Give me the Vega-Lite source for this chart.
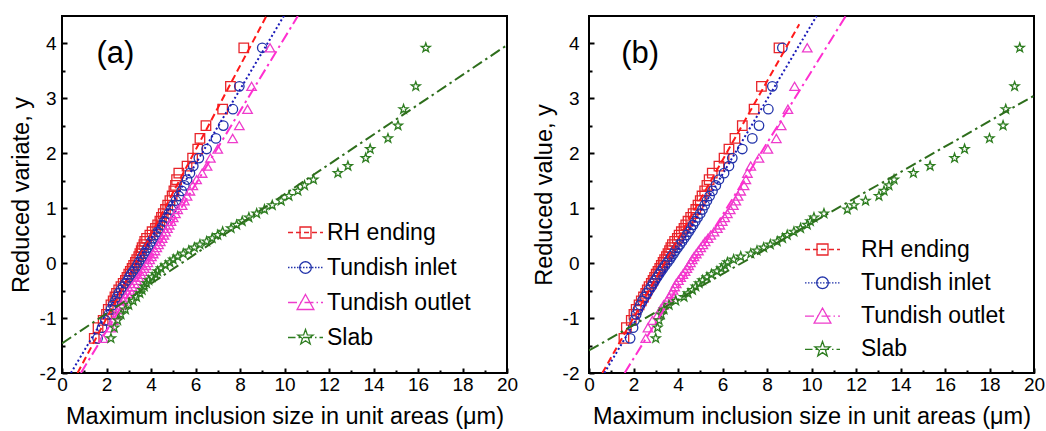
{
  "$schema": "https://vega.github.io/schema/vega-lite/v6.json",
  "padding": {"left": 8, "top": 15, "right": 3, "bottom": 2},
  "config": {
    "font": "Liberation Sans",
    "view": {"stroke": "black", "strokeWidth": 2},
    "axis": {"domain": false, "grid": false, "tickColor": "black", "tickWidth": 2, "labelColor": "black", "labelFontSize": 19, "titleFontSize": 23.5, "titleColor": "black", "titleFontWeight": "normal", "labelFont": "Liberation Sans", "titleFont": "Liberation Sans", "labelFlush": false, "labelOverlap": false},
    "legend": {"labelFont": "Liberation Sans", "labelFontSize": 23, "labelColor": "black", "labelLimit": 400},
    "point": {"filled": false, "size": 90, "strokeWidth": 1.3, "opacity": 1},
    "line": {"strokeWidth": 2}
  },
  "spacing": 82,
  "bounds": "flush",
  "resolve": {"scale": {"color": "independent", "shape": "independent"}},
  "datasets": {
    "la": [
      {"series": "RH ending", "x": 0.7, "y": -2}, {"series": "RH ending", "x": 9.2, "y": 4.51},
      {"series": "Tundish inlet", "x": 0.4, "y": -2}, {"series": "Tundish inlet", "x": 10.0, "y": 4.52},
      {"series": "Tundish outlet", "x": 0.85, "y": -2}, {"series": "Tundish outlet", "x": 10.6, "y": 4.5},
      {"series": "Slab", "x": 0, "y": -1.46}, {"series": "Slab", "x": 20, "y": 3.97}
    ],
    "lb": [
      {"series": "RH ending", "x": 0.6, "y": -2}, {"series": "RH ending", "x": 9.45, "y": 4.35},
      {"series": "Tundish inlet", "x": 0.69, "y": -2}, {"series": "Tundish inlet", "x": 10.23, "y": 4.5},
      {"series": "Tundish outlet", "x": 1.6, "y": -2}, {"series": "Tundish outlet", "x": 11.54, "y": 4.5},
      {"series": "Slab", "x": 0, "y": -1.59}, {"series": "Slab", "x": 20, "y": 3.05}
    ],
    "pa": [
      {"series":"RH ending","x":1.45,"y":-1.369},{"series":"RH ending","x":1.62,"y":-1.175},{"series":"RH ending","x":1.85,"y":-1.041},{"series":"RH ending","x":2.0,"y":-0.934},{"series":"RH ending","x":2.08,"y":-0.843},{"series":"RH ending","x":2.2,"y":-0.761},{"series":"RH ending","x":2.3,"y":-0.686},{"series":"RH ending","x":2.38,"y":-0.616},{"series":"RH ending","x":2.45,"y":-0.551},{"series":"RH ending","x":2.55,"y":-0.488},
      {"series":"RH ending","x":2.65,"y":-0.428},{"series":"RH ending","x":2.75,"y":-0.369},{"series":"RH ending","x":2.85,"y":-0.313},{"series":"RH ending","x":2.92,"y":-0.257},{"series":"RH ending","x":3.0,"y":-0.202},{"series":"RH ending","x":3.07,"y":-0.148},{"series":"RH ending","x":3.15,"y":-0.094},{"series":"RH ending","x":3.22,"y":-0.041},{"series":"RH ending","x":3.3,"y":0.013},{"series":"RH ending","x":3.36,"y":0.066},
      {"series":"RH ending","x":3.45,"y":0.12},{"series":"RH ending","x":3.5,"y":0.173},{"series":"RH ending","x":3.56,"y":0.228},{"series":"RH ending","x":3.6,"y":0.283},{"series":"RH ending","x":3.68,"y":0.338},{"series":"RH ending","x":3.72,"y":0.395},{"series":"RH ending","x":3.8,"y":0.453},{"series":"RH ending","x":3.95,"y":0.511},{"series":"RH ending","x":4.05,"y":0.572},{"series":"RH ending","x":4.2,"y":0.634},
      {"series":"RH ending","x":4.3,"y":0.697},{"series":"RH ending","x":4.4,"y":0.763},{"series":"RH ending","x":4.47,"y":0.832},{"series":"RH ending","x":4.55,"y":0.903},{"series":"RH ending","x":4.65,"y":0.977},{"series":"RH ending","x":4.75,"y":1.055},{"series":"RH ending","x":4.85,"y":1.137},{"series":"RH ending","x":4.95,"y":1.223},{"series":"RH ending","x":5.03,"y":1.316},{"series":"RH ending","x":5.1,"y":1.415},
      {"series":"RH ending","x":5.15,"y":1.522},{"series":"RH ending","x":5.25,"y":1.639},{"series":"RH ending","x":5.62,"y":1.768},{"series":"RH ending","x":5.87,"y":1.913},{"series":"RH ending","x":6.1,"y":2.078},{"series":"RH ending","x":6.2,"y":2.271},{"series":"RH ending","x":6.47,"y":2.505},{"series":"RH ending","x":7.22,"y":2.803},{"series":"RH ending","x":7.57,"y":3.219},{"series":"RH ending","x":8.17,"y":3.921},
      {"series":"Tundish inlet","x":1.6,"y":-1.369},{"series":"Tundish inlet","x":1.8,"y":-1.175},{"series":"Tundish inlet","x":1.95,"y":-1.041},{"series":"Tundish inlet","x":2.1,"y":-0.934},{"series":"Tundish inlet","x":2.2,"y":-0.843},{"series":"Tundish inlet","x":2.3,"y":-0.761},{"series":"Tundish inlet","x":2.4,"y":-0.686},{"series":"Tundish inlet","x":2.48,"y":-0.616},{"series":"Tundish inlet","x":2.55,"y":-0.551},{"series":"Tundish inlet","x":2.65,"y":-0.488},
      {"series":"Tundish inlet","x":2.75,"y":-0.428},{"series":"Tundish inlet","x":2.85,"y":-0.369},{"series":"Tundish inlet","x":2.95,"y":-0.313},{"series":"Tundish inlet","x":3.02,"y":-0.257},{"series":"Tundish inlet","x":3.1,"y":-0.202},{"series":"Tundish inlet","x":3.2,"y":-0.148},{"series":"Tundish inlet","x":3.3,"y":-0.094},{"series":"Tundish inlet","x":3.38,"y":-0.041},{"series":"Tundish inlet","x":3.45,"y":0.013},{"series":"Tundish inlet","x":3.55,"y":0.066},
      {"series":"Tundish inlet","x":3.62,"y":0.12},{"series":"Tundish inlet","x":3.7,"y":0.173},{"series":"Tundish inlet","x":3.78,"y":0.228},{"series":"Tundish inlet","x":3.86,"y":0.283},{"series":"Tundish inlet","x":3.95,"y":0.338},{"series":"Tundish inlet","x":4.02,"y":0.395},{"series":"Tundish inlet","x":4.1,"y":0.453},{"series":"Tundish inlet","x":4.2,"y":0.511},{"series":"Tundish inlet","x":4.3,"y":0.572},{"series":"Tundish inlet","x":4.4,"y":0.634},
      {"series":"Tundish inlet","x":4.5,"y":0.697},{"series":"Tundish inlet","x":4.6,"y":0.763},{"series":"Tundish inlet","x":4.7,"y":0.832},{"series":"Tundish inlet","x":4.8,"y":0.903},{"series":"Tundish inlet","x":4.9,"y":0.977},{"series":"Tundish inlet","x":5.0,"y":1.055},{"series":"Tundish inlet","x":5.12,"y":1.137},{"series":"Tundish inlet","x":5.25,"y":1.223},{"series":"Tundish inlet","x":5.38,"y":1.316},{"series":"Tundish inlet","x":5.5,"y":1.415},
      {"series":"Tundish inlet","x":5.62,"y":1.522},{"series":"Tundish inlet","x":5.75,"y":1.639},{"series":"Tundish inlet","x":5.9,"y":1.768},{"series":"Tundish inlet","x":6.15,"y":1.913},{"series":"Tundish inlet","x":6.5,"y":2.078},{"series":"Tundish inlet","x":6.92,"y":2.271},{"series":"Tundish inlet","x":7.25,"y":2.505},{"series":"Tundish inlet","x":7.68,"y":2.803},{"series":"Tundish inlet","x":7.97,"y":3.219},{"series":"Tundish inlet","x":9.0,"y":3.921},
      {"series":"Tundish outlet","x":1.85,"y":-1.369},{"series":"Tundish outlet","x":2.2,"y":-1.175},{"series":"Tundish outlet","x":2.3,"y":-1.041},{"series":"Tundish outlet","x":2.45,"y":-0.934},{"series":"Tundish outlet","x":2.55,"y":-0.843},{"series":"Tundish outlet","x":2.65,"y":-0.761},{"series":"Tundish outlet","x":2.75,"y":-0.686},{"series":"Tundish outlet","x":2.85,"y":-0.616},{"series":"Tundish outlet","x":2.95,"y":-0.551},{"series":"Tundish outlet","x":3.05,"y":-0.488},
      {"series":"Tundish outlet","x":3.15,"y":-0.428},{"series":"Tundish outlet","x":3.25,"y":-0.369},{"series":"Tundish outlet","x":3.35,"y":-0.313},{"series":"Tundish outlet","x":3.45,"y":-0.257},{"series":"Tundish outlet","x":3.55,"y":-0.202},{"series":"Tundish outlet","x":3.62,"y":-0.148},{"series":"Tundish outlet","x":3.7,"y":-0.094},{"series":"Tundish outlet","x":3.78,"y":-0.041},{"series":"Tundish outlet","x":3.86,"y":0.013},{"series":"Tundish outlet","x":3.94,"y":0.066},
      {"series":"Tundish outlet","x":4.02,"y":0.12},{"series":"Tundish outlet","x":4.1,"y":0.173},{"series":"Tundish outlet","x":4.18,"y":0.228},{"series":"Tundish outlet","x":4.26,"y":0.283},{"series":"Tundish outlet","x":4.34,"y":0.338},{"series":"Tundish outlet","x":4.42,"y":0.395},{"series":"Tundish outlet","x":4.5,"y":0.453},{"series":"Tundish outlet","x":4.58,"y":0.511},{"series":"Tundish outlet","x":4.66,"y":0.572},{"series":"Tundish outlet","x":4.74,"y":0.634},
      {"series":"Tundish outlet","x":4.82,"y":0.697},{"series":"Tundish outlet","x":4.9,"y":0.763},{"series":"Tundish outlet","x":5.0,"y":0.832},{"series":"Tundish outlet","x":5.1,"y":0.903},{"series":"Tundish outlet","x":5.2,"y":0.977},{"series":"Tundish outlet","x":5.4,"y":1.055},{"series":"Tundish outlet","x":5.5,"y":1.137},{"series":"Tundish outlet","x":5.62,"y":1.223},{"series":"Tundish outlet","x":5.75,"y":1.316},{"series":"Tundish outlet","x":5.88,"y":1.415},
      {"series":"Tundish outlet","x":6.05,"y":1.522},{"series":"Tundish outlet","x":6.3,"y":1.639},{"series":"Tundish outlet","x":6.52,"y":1.768},{"series":"Tundish outlet","x":6.67,"y":1.913},{"series":"Tundish outlet","x":7.0,"y":2.078},{"series":"Tundish outlet","x":7.67,"y":2.271},{"series":"Tundish outlet","x":7.97,"y":2.505},{"series":"Tundish outlet","x":8.34,"y":2.803},{"series":"Tundish outlet","x":8.52,"y":3.219},{"series":"Tundish outlet","x":9.35,"y":3.921},
      {"series":"Slab","x":2.2,"y":-1.369},{"series":"Slab","x":2.35,"y":-1.175},{"series":"Slab","x":2.5,"y":-1.041},{"series":"Slab","x":2.65,"y":-0.934},{"series":"Slab","x":2.85,"y":-0.843},{"series":"Slab","x":3.0,"y":-0.761},{"series":"Slab","x":3.2,"y":-0.686},{"series":"Slab","x":3.35,"y":-0.616},{"series":"Slab","x":3.5,"y":-0.551},{"series":"Slab","x":3.6,"y":-0.488},
      {"series":"Slab","x":3.7,"y":-0.428},{"series":"Slab","x":3.8,"y":-0.369},{"series":"Slab","x":3.9,"y":-0.313},{"series":"Slab","x":4.05,"y":-0.257},{"series":"Slab","x":4.2,"y":-0.202},{"series":"Slab","x":4.3,"y":-0.148},{"series":"Slab","x":4.45,"y":-0.094},{"series":"Slab","x":4.65,"y":-0.041},{"series":"Slab","x":4.85,"y":0.013},{"series":"Slab","x":5.0,"y":0.066},
      {"series":"Slab","x":5.2,"y":0.12},{"series":"Slab","x":5.45,"y":0.173},{"series":"Slab","x":5.7,"y":0.228},{"series":"Slab","x":5.95,"y":0.283},{"series":"Slab","x":6.2,"y":0.338},{"series":"Slab","x":6.5,"y":0.395},{"series":"Slab","x":6.75,"y":0.453},{"series":"Slab","x":7.0,"y":0.511},{"series":"Slab","x":7.22,"y":0.572},{"series":"Slab","x":7.6,"y":0.634},
      {"series":"Slab","x":7.85,"y":0.697},{"series":"Slab","x":8.1,"y":0.763},{"series":"Slab","x":8.4,"y":0.832},{"series":"Slab","x":8.75,"y":0.903},{"series":"Slab","x":9.1,"y":0.977},{"series":"Slab","x":9.45,"y":1.055},{"series":"Slab","x":9.85,"y":1.137},{"series":"Slab","x":10.2,"y":1.223},{"series":"Slab","x":10.6,"y":1.316},{"series":"Slab","x":10.9,"y":1.415},
      {"series":"Slab","x":11.3,"y":1.522},{"series":"Slab","x":12.4,"y":1.639},{"series":"Slab","x":12.85,"y":1.768},{"series":"Slab","x":13.65,"y":1.913},{"series":"Slab","x":13.85,"y":2.078},{"series":"Slab","x":14.65,"y":2.271},{"series":"Slab","x":15.1,"y":2.505},{"series":"Slab","x":15.35,"y":2.803},{"series":"Slab","x":15.9,"y":3.219},{"series":"Slab","x":16.35,"y":3.921}
    ],
    "pb": [
      {"series":"RH ending","x":1.57,"y":-1.369},{"series":"RH ending","x":1.68,"y":-1.175},{"series":"RH ending","x":1.9,"y":-1.041},{"series":"RH ending","x":2.02,"y":-0.934},{"series":"RH ending","x":2.12,"y":-0.843},{"series":"RH ending","x":2.25,"y":-0.761},{"series":"RH ending","x":2.35,"y":-0.686},{"series":"RH ending","x":2.45,"y":-0.616},{"series":"RH ending","x":2.55,"y":-0.551},{"series":"RH ending","x":2.62,"y":-0.488},
      {"series":"RH ending","x":2.7,"y":-0.428},{"series":"RH ending","x":2.8,"y":-0.369},{"series":"RH ending","x":2.88,"y":-0.313},{"series":"RH ending","x":2.95,"y":-0.257},{"series":"RH ending","x":3.02,"y":-0.202},{"series":"RH ending","x":3.1,"y":-0.148},{"series":"RH ending","x":3.18,"y":-0.094},{"series":"RH ending","x":3.25,"y":-0.041},{"series":"RH ending","x":3.33,"y":0.013},{"series":"RH ending","x":3.4,"y":0.066},
      {"series":"RH ending","x":3.48,"y":0.12},{"series":"RH ending","x":3.55,"y":0.173},{"series":"RH ending","x":3.62,"y":0.228},{"series":"RH ending","x":3.68,"y":0.283},{"series":"RH ending","x":3.75,"y":0.338},{"series":"RH ending","x":3.85,"y":0.395},{"series":"RH ending","x":3.97,"y":0.453},{"series":"RH ending","x":4.05,"y":0.511},{"series":"RH ending","x":4.15,"y":0.572},{"series":"RH ending","x":4.27,"y":0.634},
      {"series":"RH ending","x":4.35,"y":0.697},{"series":"RH ending","x":4.45,"y":0.763},{"series":"RH ending","x":4.57,"y":0.832},{"series":"RH ending","x":4.68,"y":0.903},{"series":"RH ending","x":4.8,"y":0.977},{"series":"RH ending","x":4.9,"y":1.055},{"series":"RH ending","x":5.0,"y":1.137},{"series":"RH ending","x":5.08,"y":1.223},{"series":"RH ending","x":5.2,"y":1.316},{"series":"RH ending","x":5.3,"y":1.415},
      {"series":"RH ending","x":5.4,"y":1.522},{"series":"RH ending","x":5.54,"y":1.639},{"series":"RH ending","x":5.84,"y":1.768},{"series":"RH ending","x":6.07,"y":1.913},{"series":"RH ending","x":6.29,"y":2.078},{"series":"RH ending","x":6.56,"y":2.271},{"series":"RH ending","x":6.89,"y":2.505},{"series":"RH ending","x":7.42,"y":2.803},{"series":"RH ending","x":7.75,"y":3.219},{"series":"RH ending","x":8.54,"y":3.921},
      {"series":"Tundish inlet","x":1.85,"y":-1.369},{"series":"Tundish inlet","x":1.98,"y":-1.175},{"series":"Tundish inlet","x":2.05,"y":-1.041},{"series":"Tundish inlet","x":2.12,"y":-0.934},{"series":"Tundish inlet","x":2.2,"y":-0.843},{"series":"Tundish inlet","x":2.3,"y":-0.761},{"series":"Tundish inlet","x":2.4,"y":-0.686},{"series":"Tundish inlet","x":2.5,"y":-0.616},{"series":"Tundish inlet","x":2.6,"y":-0.551},{"series":"Tundish inlet","x":2.7,"y":-0.488},
      {"series":"Tundish inlet","x":2.8,"y":-0.428},{"series":"Tundish inlet","x":2.88,"y":-0.369},{"series":"Tundish inlet","x":2.97,"y":-0.313},{"series":"Tundish inlet","x":3.06,"y":-0.257},{"series":"Tundish inlet","x":3.15,"y":-0.202},{"series":"Tundish inlet","x":3.24,"y":-0.148},{"series":"Tundish inlet","x":3.33,"y":-0.094},{"series":"Tundish inlet","x":3.42,"y":-0.041},{"series":"Tundish inlet","x":3.52,"y":0.013},{"series":"Tundish inlet","x":3.62,"y":0.066},
      {"series":"Tundish inlet","x":3.7,"y":0.12},{"series":"Tundish inlet","x":3.8,"y":0.173},{"series":"Tundish inlet","x":3.88,"y":0.228},{"series":"Tundish inlet","x":3.98,"y":0.283},{"series":"Tundish inlet","x":4.08,"y":0.338},{"series":"Tundish inlet","x":4.18,"y":0.395},{"series":"Tundish inlet","x":4.28,"y":0.453},{"series":"Tundish inlet","x":4.38,"y":0.511},{"series":"Tundish inlet","x":4.48,"y":0.572},{"series":"Tundish inlet","x":4.58,"y":0.634},
      {"series":"Tundish inlet","x":4.68,"y":0.697},{"series":"Tundish inlet","x":4.78,"y":0.763},{"series":"Tundish inlet","x":4.88,"y":0.832},{"series":"Tundish inlet","x":5.0,"y":0.903},{"series":"Tundish inlet","x":5.1,"y":0.977},{"series":"Tundish inlet","x":5.2,"y":1.055},{"series":"Tundish inlet","x":5.3,"y":1.137},{"series":"Tundish inlet","x":5.42,"y":1.223},{"series":"Tundish inlet","x":5.55,"y":1.316},{"series":"Tundish inlet","x":5.7,"y":1.415},
      {"series":"Tundish inlet","x":5.84,"y":1.522},{"series":"Tundish inlet","x":6.07,"y":1.639},{"series":"Tundish inlet","x":6.29,"y":1.768},{"series":"Tundish inlet","x":6.44,"y":1.913},{"series":"Tundish inlet","x":6.89,"y":2.078},{"series":"Tundish inlet","x":7.34,"y":2.271},{"series":"Tundish inlet","x":7.64,"y":2.505},{"series":"Tundish inlet","x":8.06,"y":2.803},{"series":"Tundish inlet","x":8.24,"y":3.219},{"series":"Tundish inlet","x":8.69,"y":3.921},
      {"series":"Tundish outlet","x":2.55,"y":-1.369},{"series":"Tundish outlet","x":2.65,"y":-1.175},{"series":"Tundish outlet","x":2.85,"y":-1.041},{"series":"Tundish outlet","x":3.1,"y":-0.934},{"series":"Tundish outlet","x":3.22,"y":-0.843},{"series":"Tundish outlet","x":3.35,"y":-0.761},{"series":"Tundish outlet","x":3.5,"y":-0.686},{"series":"Tundish outlet","x":3.6,"y":-0.616},{"series":"Tundish outlet","x":3.7,"y":-0.551},{"series":"Tundish outlet","x":3.78,"y":-0.488},
      {"series":"Tundish outlet","x":3.85,"y":-0.428},{"series":"Tundish outlet","x":3.92,"y":-0.369},{"series":"Tundish outlet","x":4.02,"y":-0.313},{"series":"Tundish outlet","x":4.12,"y":-0.257},{"series":"Tundish outlet","x":4.22,"y":-0.202},{"series":"Tundish outlet","x":4.32,"y":-0.148},{"series":"Tundish outlet","x":4.4,"y":-0.094},{"series":"Tundish outlet","x":4.48,"y":-0.041},{"series":"Tundish outlet","x":4.56,"y":0.013},{"series":"Tundish outlet","x":4.64,"y":0.066},
      {"series":"Tundish outlet","x":4.72,"y":0.12},{"series":"Tundish outlet","x":4.82,"y":0.173},{"series":"Tundish outlet","x":4.92,"y":0.228},{"series":"Tundish outlet","x":5.02,"y":0.283},{"series":"Tundish outlet","x":5.12,"y":0.338},{"series":"Tundish outlet","x":5.22,"y":0.395},{"series":"Tundish outlet","x":5.35,"y":0.453},{"series":"Tundish outlet","x":5.47,"y":0.511},{"series":"Tundish outlet","x":5.62,"y":0.572},{"series":"Tundish outlet","x":5.77,"y":0.634},
      {"series":"Tundish outlet","x":5.88,"y":0.697},{"series":"Tundish outlet","x":5.99,"y":0.763},{"series":"Tundish outlet","x":6.1,"y":0.832},{"series":"Tundish outlet","x":6.22,"y":0.903},{"series":"Tundish outlet","x":6.35,"y":0.977},{"series":"Tundish outlet","x":6.49,"y":1.055},{"series":"Tundish outlet","x":6.6,"y":1.137},{"series":"Tundish outlet","x":6.7,"y":1.223},{"series":"Tundish outlet","x":6.82,"y":1.316},{"series":"Tundish outlet","x":6.97,"y":1.415},
      {"series":"Tundish outlet","x":7.05,"y":1.522},{"series":"Tundish outlet","x":7.12,"y":1.639},{"series":"Tundish outlet","x":7.27,"y":1.768},{"series":"Tundish outlet","x":7.64,"y":1.913},{"series":"Tundish outlet","x":8.04,"y":2.078},{"series":"Tundish outlet","x":8.42,"y":2.271},{"series":"Tundish outlet","x":8.64,"y":2.505},{"series":"Tundish outlet","x":8.94,"y":2.803},{"series":"Tundish outlet","x":9.24,"y":3.219},{"series":"Tundish outlet","x":9.81,"y":3.921},
      {"series":"Slab","x":3.0,"y":-1.369},{"series":"Slab","x":3.08,"y":-1.175},{"series":"Slab","x":3.15,"y":-1.041},{"series":"Slab","x":3.25,"y":-0.934},{"series":"Slab","x":3.37,"y":-0.843},{"series":"Slab","x":3.6,"y":-0.761},{"series":"Slab","x":3.9,"y":-0.686},{"series":"Slab","x":4.27,"y":-0.616},{"series":"Slab","x":4.45,"y":-0.551},{"series":"Slab","x":4.65,"y":-0.488},
      {"series":"Slab","x":4.8,"y":-0.428},{"series":"Slab","x":4.95,"y":-0.369},{"series":"Slab","x":5.1,"y":-0.313},{"series":"Slab","x":5.3,"y":-0.257},{"series":"Slab","x":5.5,"y":-0.202},{"series":"Slab","x":5.75,"y":-0.148},{"series":"Slab","x":5.95,"y":-0.094},{"series":"Slab","x":6.1,"y":-0.041},{"series":"Slab","x":6.22,"y":0.013},{"series":"Slab","x":6.5,"y":0.066},
      {"series":"Slab","x":6.82,"y":0.12},{"series":"Slab","x":7.27,"y":0.173},{"series":"Slab","x":7.55,"y":0.228},{"series":"Slab","x":7.85,"y":0.283},{"series":"Slab","x":8.15,"y":0.338},{"series":"Slab","x":8.46,"y":0.395},{"series":"Slab","x":8.7,"y":0.453},{"series":"Slab","x":8.91,"y":0.511},{"series":"Slab","x":9.21,"y":0.572},{"series":"Slab","x":9.51,"y":0.634},
      {"series":"Slab","x":9.81,"y":0.697},{"series":"Slab","x":9.95,"y":0.763},{"series":"Slab","x":10.11,"y":0.832},{"series":"Slab","x":10.56,"y":0.903},{"series":"Slab","x":11.61,"y":0.977},{"series":"Slab","x":11.91,"y":1.055},{"series":"Slab","x":12.43,"y":1.137},{"series":"Slab","x":13.03,"y":1.223},{"series":"Slab","x":13.26,"y":1.316},{"series":"Slab","x":13.48,"y":1.415},
      {"series":"Slab","x":13.71,"y":1.522},{"series":"Slab","x":14.58,"y":1.639},{"series":"Slab","x":15.33,"y":1.768},{"series":"Slab","x":16.43,"y":1.913},{"series":"Slab","x":16.88,"y":2.078},{"series":"Slab","x":18.0,"y":2.271},{"series":"Slab","x":18.61,"y":2.505},{"series":"Slab","x":18.73,"y":2.803},{"series":"Slab","x":19.13,"y":3.219},{"series":"Slab","x":19.36,"y":3.921}
    ]
  },
  "hconcat": [
    {
      "width": 445,
      "height": 357,
      "resolve": {"axis": {"x": "independent", "y": "independent"}},
      "layer": [
        {
          "data": {"name": "pa"},
          "mark": {"type": "point", "opacity": 0, "strokeWidth": 1.5, "clip": true},
          "encoding": {
            "x": {"field": "x", "type": "quantitative", "scale": {"domain": [0, 20], "nice": false, "zero": false}, "axis": {"orient": "bottom", "values": [1,3,5,7,9,11,13,15,17,19], "labels": false, "tickSize": -3, "title": null}},
            "y": {"field": "y", "type": "quantitative", "scale": {"domain": [-2, 4.5], "nice": false, "zero": false}, "axis": {"orient": "left", "values": [-1.5,-0.5,0.5,1.5,2.5,3.5], "labels": false, "tickSize": -3, "title": null}},
            "color": {"field": "series", "type": "nominal", "scale": {"domain": ["RH ending","Tundish inlet","Tundish outlet","Slab"], "range": ["#e8242a","#2233aa","#ee3ccc","#2e7d20"]},
              "legend": {"title": null, "orient": "none", "legendX": 225, "legendY": 198, "symbolSize": 1225, "symbolStrokeWidth": 1.5, "symbolOpacity": 1, "symbolFillColor": "transparent", "labelOffset": 3, "rowPadding": 4, "padding": 0}},
            "shape": {"field": "series", "type": "nominal", "scale": {"domain": ["RH ending","Tundish inlet","Tundish outlet","Slab"], "range": [
              "M-1,0H-0.714M-0.543,0H-0.257M-0.086,0H0.2M0.371,0H0.657M0.829,0H1M-0.314,-0.314H0.314V0.314H-0.314Z",
              "M-1,0H-0.914M-0.829,0H-0.743M-0.657,0H-0.571M-0.486,0H-0.4M-0.314,0H-0.229M-0.143,0H-0.057M0.029,0H0.114M0.2,0H0.286M0.371,0H0.457M0.543,0H0.629M0.714,0H0.8M0.886,0H0.971M0.334,0L0.309,0.128L0.236,0.236L0.128,0.309L0,0.334L-0.128,0.309L-0.236,0.236L-0.309,0.128L-0.334,0L-0.309,-0.128L-0.236,-0.236L-0.128,-0.309L0,-0.334L0.128,-0.309L0.236,-0.236L0.309,-0.128Z",
              "M-1,0H-0.486M-0.314,0H-0.229M-0.057,0H0.457M0.629,0H0.714M0.886,0H1M0,-0.46L0.48,0.4L-0.48,0.4Z",
              "M-1,0H-0.571M-0.4,0H-0.314M-0.143,0H0.371M0.543,0H0.629M0.8,0H1M0,-0.457L0.107,-0.148L0.435,-0.141L0.174,0.057L0.269,0.37L0,0.183L-0.269,0.37L-0.174,0.057L-0.435,-0.141L-0.107,-0.148Z"]}}
          }
        },
        {"data": {"name": "pa"}, "transform": [{"filter": "datum.series === 'RH ending'"}], "mark": {"type": "point", "shape": "square", "color": "#e8242a", "clip": true},
          "encoding": {"x": {"field": "x", "type": "quantitative", "axis": null}, "y": {"field": "y", "type": "quantitative", "axis": null}}},
        {"data": {"name": "pa"}, "transform": [{"filter": "datum.series === 'Tundish inlet'"}], "mark": {"type": "point", "shape": "circle", "color": "#2233aa", "clip": true},
          "encoding": {"x": {"field": "x", "type": "quantitative", "axis": null}, "y": {"field": "y", "type": "quantitative", "axis": null}}},
        {"data": {"name": "pa"}, "transform": [{"filter": "datum.series === 'Tundish outlet'"}], "mark": {"type": "point", "shape": "triangle-up", "color": "#ee3ccc", "clip": true},
          "encoding": {"x": {"field": "x", "type": "quantitative", "axis": null}, "y": {"field": "y", "type": "quantitative", "axis": null}}},
        {"data": {"name": "pa"}, "transform": [{"filter": "datum.series === 'Slab'"}], "mark": {"type": "point", "shape": "M0,-1L0.235,-0.324L0.951,-0.309L0.38,0.124L0.588,0.809L0,0.4L-0.588,0.809L-0.38,0.124L-0.951,-0.309L-0.235,-0.324Z", "color": "#2e7d20", "clip": true},
          "encoding": {"x": {"field": "x", "type": "quantitative", "axis": null}, "y": {"field": "y", "type": "quantitative", "axis": null}}},
        {"data": {"name": "la"}, "transform": [{"filter": "datum.series === 'RH ending'"}], "mark": {"type": "line", "color": "#ff1a1a", "strokeDash": [7, 4], "clip": true},
          "encoding": {
            "x": {"field": "x", "type": "quantitative", "axis": {"orient": "bottom", "values": [0,2,4,6,8,10,12,14,16,18,20], "tickSize": -5, "labelPadding": 7, "title": "Maximum inclusion size in unit areas (μm)", "titlePadding": 10}},
            "y": {"field": "y", "type": "quantitative", "axis": {"orient": "left", "values": [-2,-1,0,1,2,3,4], "tickSize": -5, "labelPadding": 11, "labelExpr": "'' + datum.value", "title": "Reduced variate, y", "titlePadding": 6}}
          }},
        {"data": {"name": "la"}, "transform": [{"filter": "datum.series === 'Tundish inlet'"}], "mark": {"type": "line", "color": "#1a1ab8", "strokeDash": [2, 2.5], "clip": true},
          "encoding": {"x": {"field": "x", "type": "quantitative", "axis": null}, "y": {"field": "y", "type": "quantitative", "axis": null}}},
        {"data": {"name": "la"}, "transform": [{"filter": "datum.series === 'Tundish outlet'"}], "mark": {"type": "line", "color": "#ff2fd0", "strokeDash": [11, 4, 2.5, 4], "clip": true},
          "encoding": {"x": {"field": "x", "type": "quantitative", "axis": null}, "y": {"field": "y", "type": "quantitative", "axis": null}}},
        {"data": {"name": "la"}, "transform": [{"filter": "datum.series === 'Slab'"}], "mark": {"type": "line", "color": "#2e6e1c", "strokeDash": [11, 4, 2.5, 4], "clip": true},
          "encoding": {"x": {"field": "x", "type": "quantitative", "axis": null}, "y": {"field": "y", "type": "quantitative", "axis": null}}},
        {
          "data": {"values": [{}]},
          "mark": {"type": "text", "fontSize": 31, "color": "black", "align": "center", "baseline": "middle"},
          "encoding": {
            "x": {"datum": 2.4, "type": "quantitative", "axis": null},
            "y": {"datum": 3.8, "type": "quantitative", "axis": null},
            "text": {"value": "(a)"}
          }
        }
      ]
    },
    {
      "width": 445,
      "height": 357,
      "resolve": {"axis": {"x": "independent", "y": "independent"}},
      "layer": [
        {
          "data": {"name": "pb"},
          "mark": {"type": "point", "opacity": 0, "strokeWidth": 1.5, "clip": true},
          "encoding": {
            "x": {"field": "x", "type": "quantitative", "scale": {"domain": [0, 20], "nice": false, "zero": false}, "axis": {"orient": "bottom", "values": [1,3,5,7,9,11,13,15,17,19], "labels": false, "tickSize": -3, "title": null}},
            "y": {"field": "y", "type": "quantitative", "scale": {"domain": [-2, 4.5], "nice": false, "zero": false}, "axis": {"orient": "left", "values": [-1.5,-0.5,0.5,1.5,2.5,3.5], "labels": false, "tickSize": -3, "title": null}},
            "color": {"field": "series", "type": "nominal", "scale": {"domain": ["RH ending","Tundish inlet","Tundish outlet","Slab"], "range": ["#e8242a","#2233aa","#ee3ccc","#2e7d20"]},
              "legend": {"title": null, "orient": "none", "legendX": 215, "legendY": 215, "symbolSize": 1225, "symbolStrokeWidth": 1.5, "symbolOpacity": 1, "symbolFillColor": "transparent", "labelOffset": 20, "rowPadding": 2.3, "padding": 0}},
            "shape": {"field": "series", "type": "nominal", "scale": {"domain": ["RH ending","Tundish inlet","Tundish outlet","Slab"], "range": [
              "M-1,0H-0.714M-0.543,0H-0.257M-0.086,0H0.2M0.371,0H0.657M0.829,0H1M-0.314,-0.314H0.314V0.314H-0.314Z",
              "M-1,0H-0.914M-0.829,0H-0.743M-0.657,0H-0.571M-0.486,0H-0.4M-0.314,0H-0.229M-0.143,0H-0.057M0.029,0H0.114M0.2,0H0.286M0.371,0H0.457M0.543,0H0.629M0.714,0H0.8M0.886,0H0.971M0.334,0L0.309,0.128L0.236,0.236L0.128,0.309L0,0.334L-0.128,0.309L-0.236,0.236L-0.309,0.128L-0.334,0L-0.309,-0.128L-0.236,-0.236L-0.128,-0.309L0,-0.334L0.128,-0.309L0.236,-0.236L0.309,-0.128Z",
              "M-1,0H-0.486M-0.314,0H-0.229M-0.057,0H0.457M0.629,0H0.714M0.886,0H1M0,-0.46L0.48,0.4L-0.48,0.4Z",
              "M-1,0H-0.571M-0.4,0H-0.314M-0.143,0H0.371M0.543,0H0.629M0.8,0H1M0,-0.457L0.107,-0.148L0.435,-0.141L0.174,0.057L0.269,0.37L0,0.183L-0.269,0.37L-0.174,0.057L-0.435,-0.141L-0.107,-0.148Z"]}}
          }
        },
        {"data": {"name": "pb"}, "transform": [{"filter": "datum.series === 'RH ending'"}], "mark": {"type": "point", "shape": "square", "color": "#e8242a", "clip": true},
          "encoding": {"x": {"field": "x", "type": "quantitative", "axis": null}, "y": {"field": "y", "type": "quantitative", "axis": null}}},
        {"data": {"name": "pb"}, "transform": [{"filter": "datum.series === 'Tundish inlet'"}], "mark": {"type": "point", "shape": "circle", "color": "#2233aa", "clip": true},
          "encoding": {"x": {"field": "x", "type": "quantitative", "axis": null}, "y": {"field": "y", "type": "quantitative", "axis": null}}},
        {"data": {"name": "pb"}, "transform": [{"filter": "datum.series === 'Tundish outlet'"}], "mark": {"type": "point", "shape": "triangle-up", "color": "#ee3ccc", "clip": true},
          "encoding": {"x": {"field": "x", "type": "quantitative", "axis": null}, "y": {"field": "y", "type": "quantitative", "axis": null}}},
        {"data": {"name": "pb"}, "transform": [{"filter": "datum.series === 'Slab'"}], "mark": {"type": "point", "shape": "M0,-1L0.235,-0.324L0.951,-0.309L0.38,0.124L0.588,0.809L0,0.4L-0.588,0.809L-0.38,0.124L-0.951,-0.309L-0.235,-0.324Z", "color": "#2e7d20", "clip": true},
          "encoding": {"x": {"field": "x", "type": "quantitative", "axis": null}, "y": {"field": "y", "type": "quantitative", "axis": null}}},
        {"data": {"name": "lb"}, "transform": [{"filter": "datum.series === 'RH ending'"}], "mark": {"type": "line", "color": "#ff1a1a", "strokeDash": [7, 4], "clip": true},
          "encoding": {
            "x": {"field": "x", "type": "quantitative", "axis": {"orient": "bottom", "values": [0,2,4,6,8,10,12,14,16,18,20], "tickSize": -5, "labelPadding": 7, "title": "Maximum inclusion size in unit areas (μm)", "titlePadding": 10}},
            "y": {"field": "y", "type": "quantitative", "axis": {"orient": "left", "values": [-2,-1,0,1,2,3,4], "tickSize": -5, "labelPadding": 15, "labelExpr": "'' + datum.value", "title": "Reduced value, y", "titlePadding": 6}}
          }},
        {"data": {"name": "lb"}, "transform": [{"filter": "datum.series === 'Tundish inlet'"}], "mark": {"type": "line", "color": "#1a1ab8", "strokeDash": [2, 2.5], "clip": true},
          "encoding": {"x": {"field": "x", "type": "quantitative", "axis": null}, "y": {"field": "y", "type": "quantitative", "axis": null}}},
        {"data": {"name": "lb"}, "transform": [{"filter": "datum.series === 'Tundish outlet'"}], "mark": {"type": "line", "color": "#ff2fd0", "strokeDash": [11, 4, 2.5, 4], "clip": true},
          "encoding": {"x": {"field": "x", "type": "quantitative", "axis": null}, "y": {"field": "y", "type": "quantitative", "axis": null}}},
        {"data": {"name": "lb"}, "transform": [{"filter": "datum.series === 'Slab'"}], "mark": {"type": "line", "color": "#2e6e1c", "strokeDash": [11, 4, 2.5, 4], "clip": true},
          "encoding": {"x": {"field": "x", "type": "quantitative", "axis": null}, "y": {"field": "y", "type": "quantitative", "axis": null}}},
        {
          "data": {"values": [{}]},
          "mark": {"type": "text", "fontSize": 31, "color": "black", "align": "center", "baseline": "middle"},
          "encoding": {
            "x": {"datum": 2.3, "type": "quantitative", "axis": null},
            "y": {"datum": 3.8, "type": "quantitative", "axis": null},
            "text": {"value": "(b)"}
          }
        }
      ]
    }
  ]
}
